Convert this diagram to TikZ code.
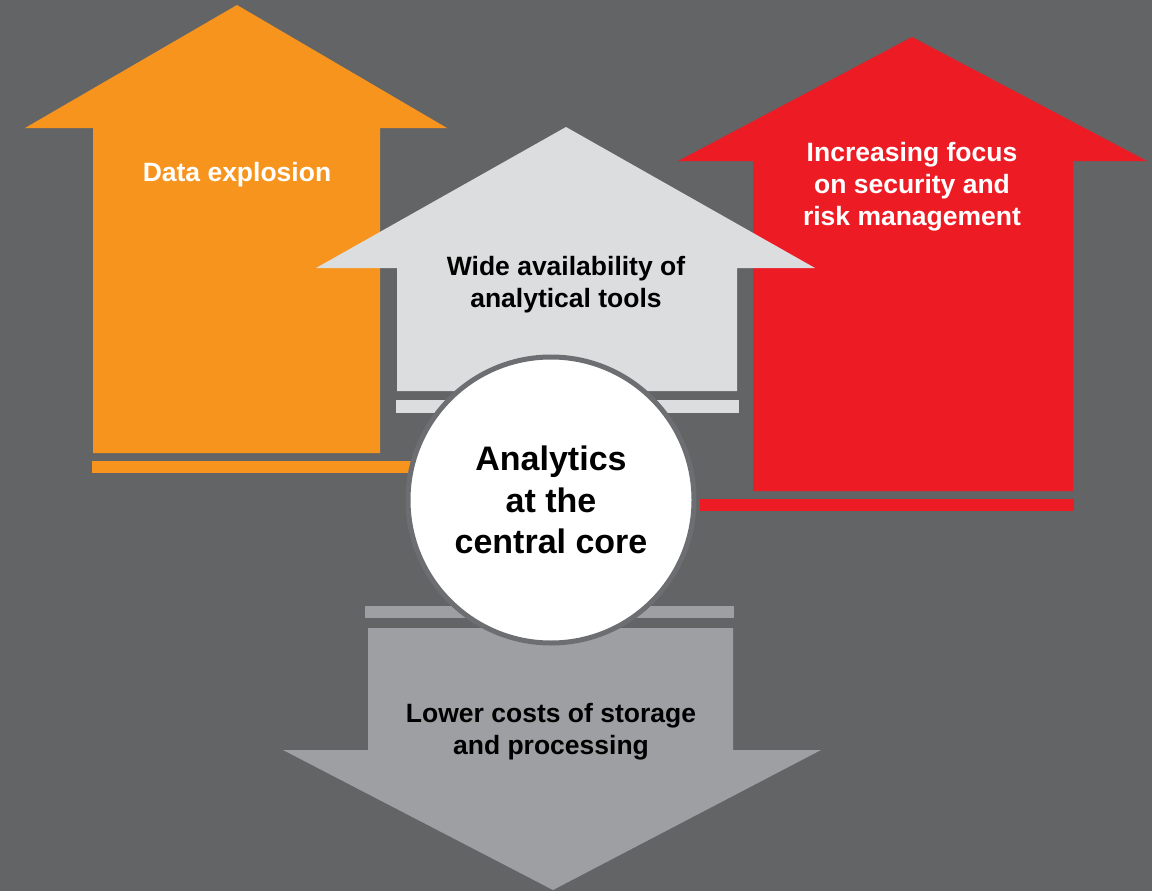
\documentclass[tikz,border=0pt]{standalone}
\usepackage{fontspec}
\setmainfont{Liberation Sans}
\usepackage{tikz}
\definecolor{slate}{rgb}{0.388, 0.392, 0.400}
\definecolor{tangerine}{rgb}{0.969, 0.580, 0.118}
\definecolor{crimson}{rgb}{0.929, 0.110, 0.141}
\definecolor{silver}{rgb}{0.863, 0.867, 0.871}
\definecolor{pewter}{rgb}{0.616, 0.624, 0.635}
\definecolor{rim}{rgb}{0.427, 0.431, 0.443}

\begin{document}
\begin{tikzpicture}[x=1pt,y=-1pt]
	\tikzstyle{arrowtext} = [align=center,inner sep=0pt,font=\fontsize{26.5}{32}\selectfont\bfseries]
	\tikzstyle{coretext} = [align=center,inner sep=0pt,font=\fontsize{34}{41.5}\selectfont\bfseries]

	% Draw the background.
	\fill[slate] (0,0) rectangle (1152,891);
	\useasboundingbox (0,0) rectangle (1152,891);

	% Orange arrow and its bar
	\fill[tangerine] (237,5) -- (447,128) -- (380,128) -- (380,453) -- (93,453) -- (93,128) -- (25,128) -- cycle;
	\fill[tangerine] (92,461) rectangle (420,473);
	\node[arrowtext,white] (explosion) at (237,175) {Data explosion};

	% Red arrow and its bar
	\fill[crimson] (912,37) -- (1147,161) -- (1073,161) -- (1073,491) -- (753,491) -- (753,161) -- (678,161) -- cycle;
	\fill[crimson] (700,499) rectangle (1074,511);
	\node[arrowtext,white] (security) at (912,187) {Increasing focus\\on security and\\risk management};

	% Light gray arrow, drawn over the other two
	\fill[silver] (566,127) -- (815,268) -- (737,268) -- (737,391) -- (397,391) -- (397,268) -- (316,268) -- cycle;
	\fill[silver] (396,400) rectangle (739,413);
	\node[arrowtext,black] (tools) at (566,285) {Wide availability of\\analytical tools};

	% Downward arrow
	\fill[pewter] (365,606) rectangle (734,618);
	\fill[pewter] (368,628) -- (733,628) -- (733,750) -- (821,750) -- (553,890) -- (283,750) -- (368,750) -- cycle;
	\node[arrowtext,black] (storage) at (551,732) {Lower costs of storage\\and processing};

	% Central core
	\node[circle,fill=white,draw=rim,line width=5pt,minimum size=286pt,inner sep=0pt] (core) at (551,500) {};
	\node[coretext,black] (coretitle) at (core.center) {Analytics\\at the\\central core};
\end{tikzpicture}
\end{document}
